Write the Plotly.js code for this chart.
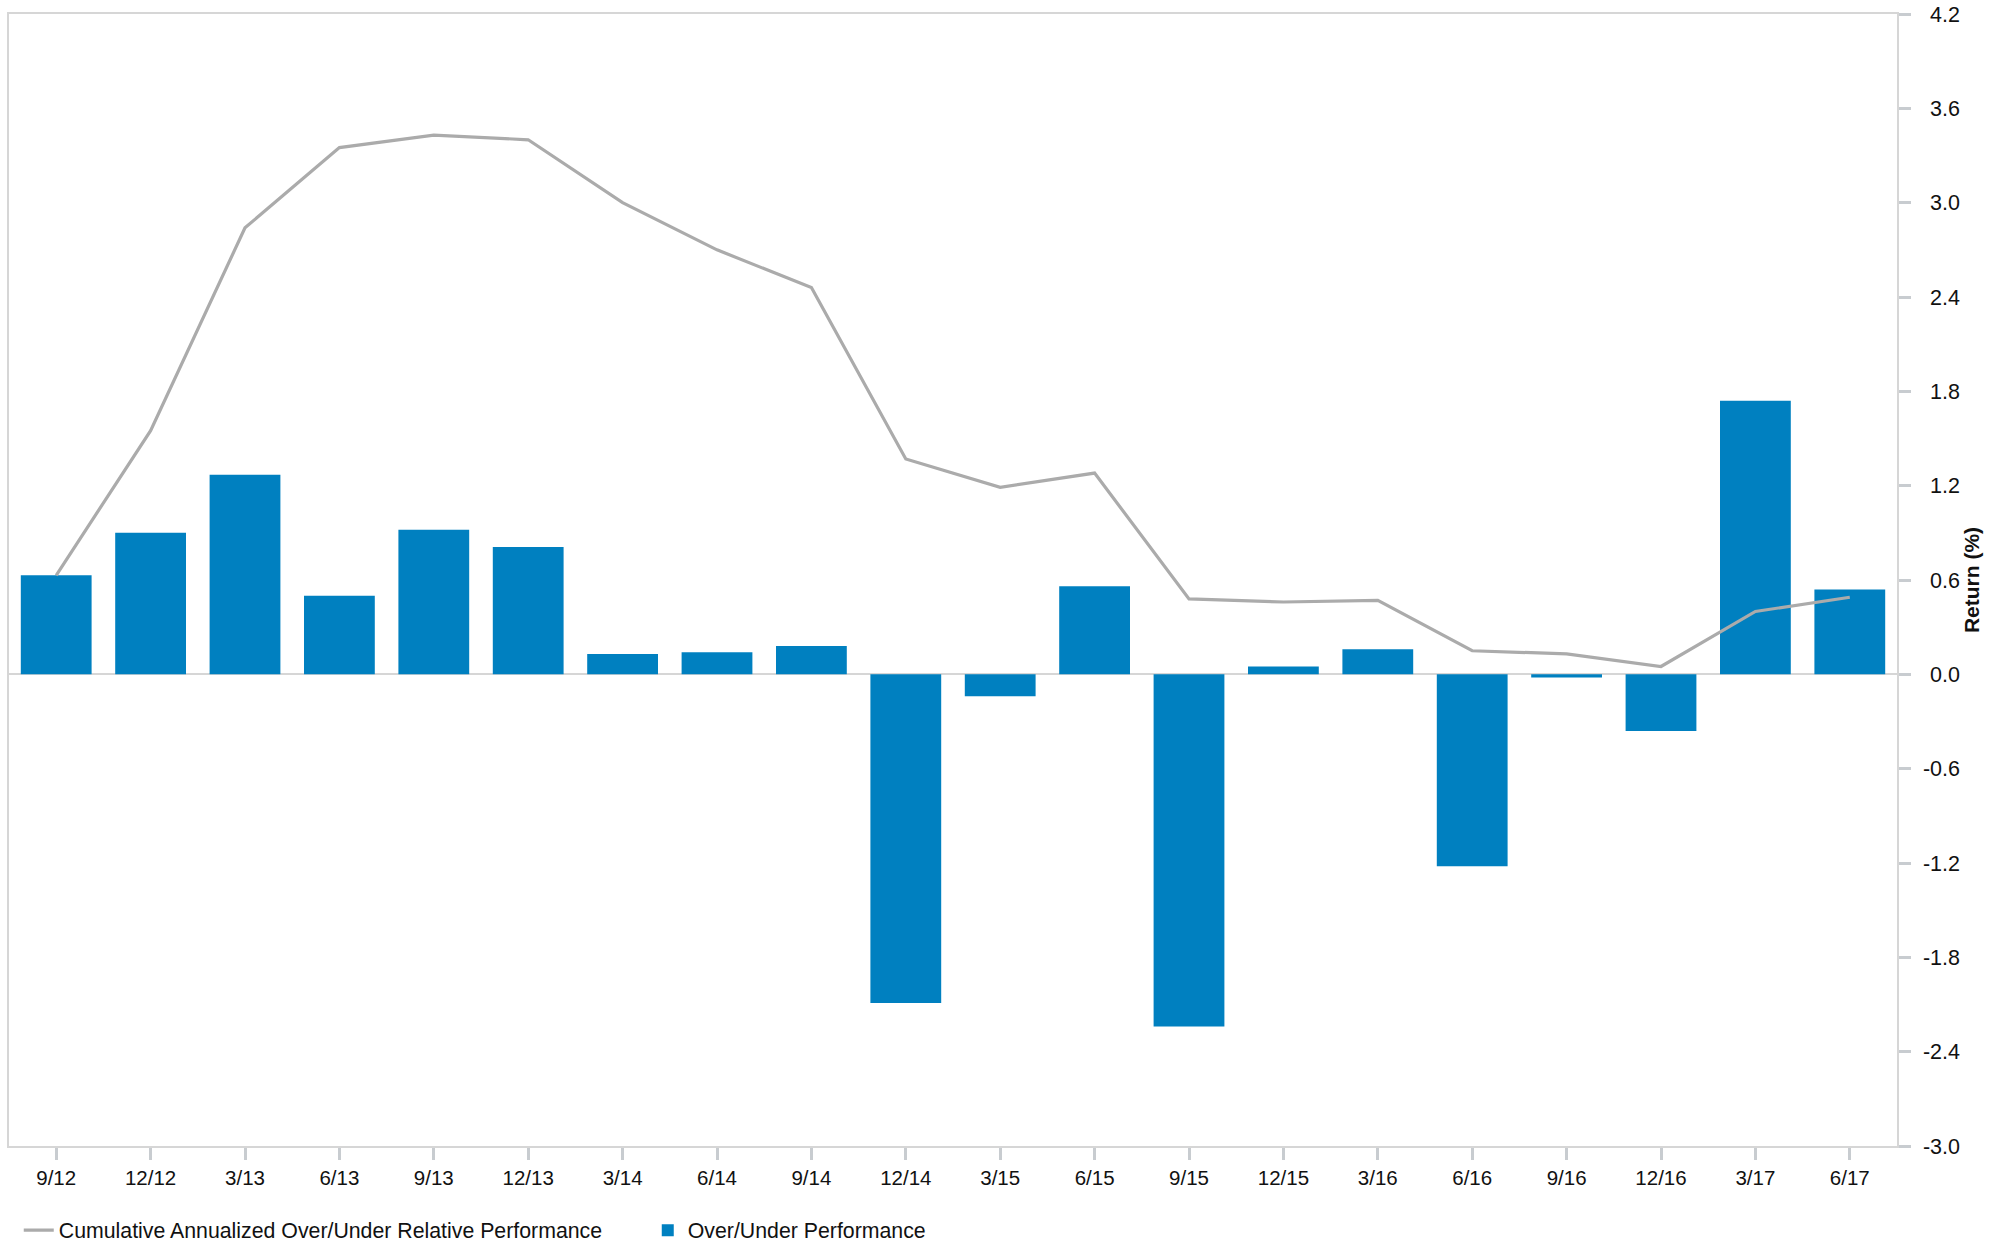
<!DOCTYPE html>
<html>
<head>
<meta charset="utf-8">
<script src="https://cdn.plot.ly/plotly-3.0.1.min.js"></script>
<style>
  html, body { margin: 0; padding: 0; background: #ffffff; }
  #chart { width: 2005px; height: 1243px; }
</style>
</head>
<body>
<div id="chart"></div>
<script>
// Quarter-end labels
const quarters = ['9/12', '12/12', '3/13', '6/13', '9/13', '12/13', '3/14', '6/14', '9/14', '12/14',
                  '3/15', '6/15', '9/15', '12/15', '3/16', '6/16', '9/16', '12/16', '3/17', '6/17'];

// Quarterly over/under performance (%)
const overUnder = [0.63, 0.90, 1.27, 0.50, 0.92, 0.81, 0.13, 0.14, 0.18, -2.09,
                   -0.14, 0.56, -2.24, 0.05, 0.16, -1.22, -0.02, -0.36, 1.74, 0.54];

// Cumulative annualized over/under relative performance (%)
const cumulative = [0.63, 1.55, 2.84, 3.35, 3.43, 3.40, 3.00, 2.70, 2.46, 1.37,
                    1.19, 1.28, 0.48, 0.46, 0.47, 0.15, 0.13, 0.05, 0.40, 0.49];

// Value axis
const yMin = -3.0, yMax = 4.2;
const yTicks = [-3.0, -2.4, -1.8, -1.2, -0.6, 0.0, 0.6, 1.2, 1.8, 2.4, 3.0, 3.6, 4.2];
const yTickText = yTicks.map(v => v.toFixed(1));

const W = 2005, H = 1243;
const mL = 9, mT = 14, mB = 97, paperRight = 1960;
const plotRight = 1897;
const xDomainEnd = (plotRight - mL) / (paperRight - mL);

const fontFamily = '"Liberation Sans", Arial, Helvetica, sans-serif';
const textColor = '#111111';
const frameColor = '#d6d6d6';
const tickColor = '#c8ccd0';

const barTrace = {
  type: 'bar',
  name: 'Over/Under Performance',
  x: quarters,
  y: overUnder,
  marker: { color: '#0080c0' },
  yaxis: 'y',
  hoverinfo: 'x+y'
};

const lineTrace = {
  type: 'scatter',
  mode: 'lines',
  name: 'Cumulative Annualized Over/Under Relative Performance',
  x: quarters,
  y: cumulative,
  line: { color: '#ababab', width: 3.2 },
  yaxis: 'y2',
  hoverinfo: 'x+y'
};

const layout = {
  width: W,
  height: H,
  margin: { l: mL, r: W - paperRight, t: mT, b: mB, pad: 0, autoexpand: false },
  paper_bgcolor: '#ffffff',
  plot_bgcolor: '#ffffff',
  font: { family: fontFamily, size: 20, color: textColor },
  bargap: 0.25,
  showlegend: true,
  legend: {
    orientation: 'h',
    x: 0.005,
    xanchor: 'left',
    y: -0.0745,
    yanchor: 'middle',
    traceorder: 'normal',
    font: { family: fontFamily, size: 21.3, color: textColor },
    entrywidth: 584,
    bgcolor: 'rgba(0,0,0,0)'
  },
  xaxis: {
    domain: [0, xDomainEnd],
    type: 'category',
    range: [-0.5, quarters.length - 0.5],
    showline: true,
    mirror: true,
    linecolor: frameColor,
    linewidth: 2,
    showgrid: false,
    zeroline: false,
    ticks: 'outside',
    ticklen: 12,
    tickwidth: 3,
    tickcolor: tickColor,
    tickfont: { family: fontFamily, size: 20.5, color: textColor },
    automargin: false
  },
  // right-hand frame edge with tick marks and the axis title
  yaxis: {
    side: 'right',
    range: [yMin, yMax],
    tickvals: yTicks,
    showticklabels: false,
    showline: true,
    mirror: true,
    linecolor: frameColor,
    linewidth: 2,
    showgrid: false,
    zeroline: true,
    zerolinecolor: frameColor,
    zerolinewidth: 2,
    ticks: 'outside',
    ticklen: 12,
    tickwidth: 3,
    tickcolor: tickColor,
    automargin: false,
    title: {
      text: '<b>Return (%)</b>',
      font: { family: fontFamily, size: 21, color: textColor },
      standoff: 54
    }
  },
  // right-aligned value labels placed just outside the right frame edge
  yaxis2: {
    overlaying: 'y',
    anchor: 'free',
    side: 'left',
    position: 1,
    range: [yMin, yMax],
    tickvals: yTicks,
    ticktext: yTickText,
    showline: false,
    showgrid: false,
    zeroline: false,
    ticks: '',
    tickfont: { family: fontFamily, size: 21.5, color: textColor },
    automargin: false
  }
};

Plotly.newPlot('chart', [lineTrace, barTrace], layout, { displayModeBar: false, staticPlot: true });
</script>
</body>
</html>
